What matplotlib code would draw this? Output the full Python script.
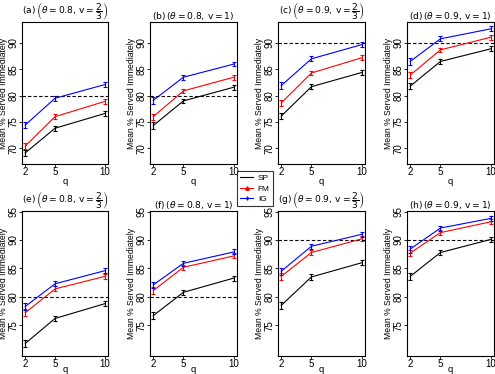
import matplotlib
matplotlib.use("Agg")
import matplotlib.pyplot as plt
from matplotlib.lines import Line2D

plt.rcParams['font.family'] = ['Liberation Sans', 'DejaVu Sans']
plt.rcParams['mathtext.fontset'] = 'dejavusans'

# data
q = [2, 5, 10]
letters = ['a', 'b', 'c', 'd', 'e', 'f', 'g', 'h']
theta = [0.8, 0.8, 0.9, 0.9, 0.8, 0.8, 0.9, 0.9]
v_txt = [r'\dfrac{2}{3}', '1', r'\dfrac{2}{3}', '1', r'\dfrac{2}{3}', '1', r'\dfrac{2}{3}', '1']
sp = [[69.1, 73.8, 76.6], [74.3, 79.0, 81.6], [76.1, 81.7, 84.4], [81.8, 86.5, 88.9],
      [71.8, 76.2, 78.8], [76.7, 80.8, 83.3], [78.5, 83.5, 86.0], [83.6, 87.8, 90.1]]
fm = [[70.4, 76.0, 78.9], [76.0, 80.9, 83.5], [78.6, 84.3, 87.2], [83.9, 88.7, 91.1],
      [77.2, 81.4, 83.6], [81.1, 85.2, 87.2], [83.6, 87.8, 90.2], [87.7, 91.3, 93.2]]
ig = [[74.4, 79.5, 82.1], [79.1, 83.5, 86.0], [81.9, 87.0, 89.7], [86.5, 90.8, 92.7],
      [78.3, 82.3, 84.6], [82.1, 85.9, 87.9], [84.5, 88.9, 91.0], [88.4, 92.1, 93.8]]
err = [0.6, 0.45, 0.45]

W, H = 495, 374
fig = plt.figure(figsize=(W / 100, H / 100), dpi=100)

col_px = [(22, 108), (150, 237), (278, 365), (407, 494)]
row_px = [(22, 164), (211, 356)]
row_lims = [(67, 94), (69.6, 95.1)]
row_ticks = [[70, 75, 80, 85, 90], [75, 80, 85, 90, 95]]
q_drop = [18, 14]   # px below the axes for the "q" label

for i in range(8):
    r, c = divmod(i, 4)
    x0, x1 = col_px[c]
    y0, y1 = row_px[r]
    ax = fig.add_axes([x0 / W, 1 - y1 / H, (x1 - x0) / W, (y1 - y0) / H])
    for vals, col in ((sp[i], 'black'), (fm[i], 'red'), (ig[i], 'blue')):
        ax.errorbar(q, vals, yerr=err, color=col, lw=0.8, elinewidth=0.8,
                    capsize=1.2, capthick=0.8)
    ax.axhline(theta[i] * 100, color='black', ls=(0, (3, 2)), lw=0.8)
    ax.set_xlim(1.68, 10.32)
    ax.set_ylim(*row_lims[r])
    ax.set_xticks(q)
    ax.set_yticks(row_ticks[r])
    ax.set_yticklabels([str(t) for t in row_ticks[r]], rotation=90, va='center')
    ax.tick_params(direction='out', length=2, width=0.6, labelsize=7, pad=0.3)
    for s in ax.spines.values():
        s.set_linewidth(0.8)
    ax.set_xlabel('q', fontsize=6.8, va='center')
    ax.xaxis.set_label_coords(0.5, -q_drop[r] / (y1 - y0))
    ax.set_ylabel('Mean % Served Immediately', fontsize=6.2)
    ax.yaxis.set_label_coords(-14 / (x1 - x0), 0.5)
    title = (r'$\left(\mathrm{%s}\right)\,\left(\theta = %s,\,\mathrm{v} = %s\right)$'
             % (letters[i], theta[i], v_txt[i]))
    ax.set_title(title, fontsize=6.6, pad=2)

handles = [Line2D([], [], color='black', lw=0.8),
           Line2D([], [], color='red', lw=0.8, marker='^', ms=2.5),
           Line2D([], [], color='blue', lw=0.8, marker='+', ms=3.5)]
leg = fig.legend(handles, ['SP', 'FM', 'IG'], loc='upper left',
                 bbox_to_anchor=(237 / W, 1 - 171 / H), fontsize=6,
                 fancybox=False, edgecolor='black', handlelength=1.5,
                 borderpad=0.4, labelspacing=0.3, handletextpad=0.6,
                 borderaxespad=0)
leg.get_frame().set_linewidth(0.8)

fig.savefig('out.png', dpi=100)
